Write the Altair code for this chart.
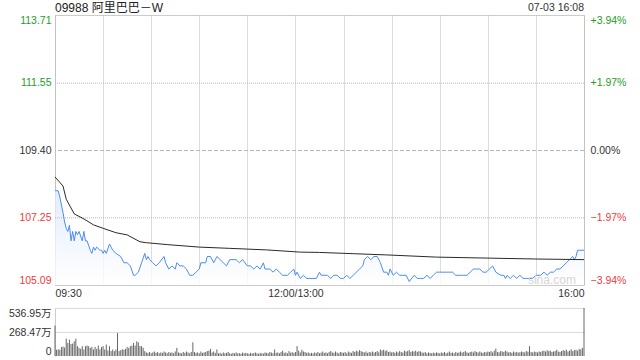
import altair as alt
import pandas as pd

TITLE = "09988 阿里巴巴－W"
STAMP = "07-03 16:08"
WATERMARK = "sina.com"
PRE_CLOSE = 109.40
Y_TICKS = [105.09, 107.25, 109.40, 111.55, 113.71]
PCT_TICKS = [-3.94, -1.97, 0.0, 1.97, 3.94]
VOL_TICKS = [0, 268.47, 536.95]
TIME_GRID = list(range(0, 331, 30))
GRID_LEVELS = [107.25, 109.40, 111.55]
GRID_KIND = ["grid", "pre", "grid"]

price_minute = [0, 2, 3, 5, 6, 7, 8, 9, 10, 11, 12, 13, 14, 15, 17, 18, 19, 20, 22, 23, 24, 25, 26, 28, 29, 30,
                31, 32, 34, 35, 36, 38, 41, 43, 45, 47, 49, 50, 52, 54, 56, 57, 58, 59, 61, 63, 65, 68, 69, 71,
                73, 75, 76, 78, 80, 82, 84, 86, 88, 90, 91, 94, 95, 97, 99, 100, 101, 103, 105, 107, 109, 111,
                113, 115, 117, 120, 122, 124, 126, 128, 130, 131, 134, 136, 138, 140, 142, 145, 147, 149, 150,
                151, 153, 155, 157, 159, 163, 165, 166, 167, 170, 172, 174, 176, 178, 180, 182, 184, 186, 188,
                190, 192, 193, 195, 197, 199, 201, 203, 205, 207, 208, 209, 211, 213, 215, 217, 219, 221, 224,
                226, 228, 230, 232, 234, 236, 238, 240, 242, 244, 246, 248, 250, 253, 255, 257, 259, 261, 263,
                265, 267, 269, 271, 273, 275, 278, 280, 281, 282, 284, 286, 288, 290, 292, 294, 296, 298, 300,
                303, 305, 307, 309, 311, 313, 315, 317, 319, 321, 323, 324, 325, 326, 327, 330]
price = [108.1, 108.1, 107.9, 107.4, 107.1, 106.9, 106.8, 107.0, 106.5, 106.8, 106.5, 106.8, 106.7, 106.8, 106.5,
         106.8, 106.5, 106.5, 106.2, 106.1, 106.3, 106.2, 106.3, 106.2, 106.2, 106.1, 106.2, 106.1, 106.4, 106.3,
         106.2, 106.1, 106.0, 105.8, 105.8, 105.7, 105.4, 105.4, 105.5, 105.8, 106.1, 105.9, 106.0, 105.9, 105.8,
         105.7, 105.8, 106.0, 105.8, 105.6, 105.7, 105.6, 105.8, 105.7, 105.7, 105.6, 105.4, 105.4, 105.5, 105.6,
         105.8, 105.8, 106.0, 106.0, 105.8, 105.9, 106.0, 105.9, 105.8, 105.7, 105.9, 105.9, 105.9, 105.8, 105.9,
         105.7, 105.7, 105.6, 105.7, 105.6, 105.8, 105.6, 105.6, 105.5, 105.6, 105.5, 105.4, 105.4, 105.5, 105.6,
         105.4, 105.5, 105.3, 105.4, 105.3, 105.3, 105.3, 105.5, 105.4, 105.4, 105.4, 105.3, 105.4, 105.4, 105.3,
         105.3, 105.4, 105.3, 105.4, 105.5, 105.6, 105.7, 105.9, 106.0, 105.9, 106.0, 106.0, 105.8, 105.5, 105.5,
         105.4, 105.6, 105.4, 105.5, 105.4, 105.4, 105.4, 105.2, 105.4, 105.3, 105.3, 105.3, 105.4, 105.3, 105.4,
         105.5, 105.5, 105.5, 105.5, 105.5, 105.5, 105.4, 105.4, 105.4, 105.4, 105.5, 105.6, 105.6, 105.6, 105.5,
         105.5, 105.6, 105.7, 105.5, 105.4, 105.4, 105.3, 105.4, 105.3, 105.4, 105.3, 105.4, 105.3, 105.3, 105.3,
         105.3, 105.4, 105.4, 105.5, 105.4, 105.5, 105.5, 105.6, 105.6, 105.7, 105.8, 105.9, 106.0, 105.9, 106.0,
         106.2, 106.2, 106.2]

avg_minute = [0, 5, 7, 12, 18, 24, 30, 38, 45, 53, 57, 70, 90, 109, 132, 153, 165, 186, 207, 238, 269, 300, 330]
avg_price = [108.54, 108.25, 107.83, 107.36, 107.20, 107.01, 106.90, 106.76, 106.69, 106.47, 106.44, 106.38,
             106.30, 106.26, 106.21, 106.14, 106.13, 106.09, 106.05, 105.98, 105.95, 105.92, 105.90]

# volume per minute, in 万 shares
volume = (
    [340, 70, 75, 70, 100, 105, 95, 194, 146, 183, 135, 139, 164, 194, 110, 91, 80, 110, 73, 110, 117, 110, 91, 102, 73, 102, 80, 117, 73, 99]
    + [110, 73, 128, 62, 110, 55, 73, 55, 73, 256, 55, 65, 75, 70, 80, 102, 91, 110, 117, 146, 117, 164, 153, 110, 110, 91, 55, 40, 35, 45]
    + [30, 40, 50, 35, 45, 30, 40, 35, 50, 40, 30, 45, 35, 40, 30, 50, 91, 40, 35, 30, 45, 35, 50, 40, 30, 45, 153, 45, 35, 40]
    + [30, 50, 35, 40, 45, 55, 60, 80, 40, 50, 35, 73, 30, 35, 25, 40, 30, 35, 45, 30, 25, 35, 30, 40, 28, 32, 25, 38, 30, 35]
    + [30, 25, 35, 28, 32, 40, 30, 25, 35, 30, 28, 40, 35, 30, 45, 38, 30, 73, 35, 40, 30, 45, 60, 35, 40, 30, 55, 38, 42, 35]
    + [45, 110, 60, 40, 70, 50, 45, 35, 40, 30, 35, 28, 40, 32, 45, 30, 38, 50, 35, 40, 30, 45, 55, 40, 35, 50, 38, 30, 45, 40]
    + [35, 45, 30, 50, 40, 35, 55, 45, 60, 50, 65, 55, 45, 40, 50, 35, 45, 40, 50, 38, 45, 55, 40, 73, 60, 70, 55, 65, 45, 50]
    + [40, 45, 35, 50, 40, 55, 45, 38, 60, 50, 55, 65, 45, 55, 50, 60, 45, 55, 50, 40, 35, 45, 30, 40, 35, 30, 38, 32, 40, 35]
    + [30, 40, 35, 45, 30, 38, 50, 35, 40, 30, 45, 35, 40, 50, 38, 45, 55, 40, 35, 45, 50, 40, 55, 45, 38, 50, 40, 35, 45, 40]
    + [50, 45, 55, 40, 60, 84, 45, 40, 55, 50, 45, 60, 50, 40, 45, 35, 50, 40, 45, 38, 42, 50, 45, 40, 55, 48, 110, 45, 40, 50]
    + [45, 40, 50, 45, 55, 60, 50, 65, 55, 60, 45, 50, 55, 70, 50, 45, 55, 65, 60, 70, 50, 60, 75, 55, 65, 70, 60, 80, 73, 91, 536.95]
)

FONT = "'Liberation Sans', Arial, 'Noto Sans CJK SC', sans-serif"
GREEN = "#1f9e1f"
RED = "#f03c3c"
GRAY = "#333333"
BLUE = "#4b8cf0"
GRID = "#b8b8b8"

df_p = pd.DataFrame({"m": price_minute, "price": price})
df_a = pd.DataFrame({"m": avg_minute, "avg": avg_price})
df_v = pd.DataFrame({"m": list(range(len(volume))), "vol": volume})
df_g = pd.DataFrame({"lvl": GRID_LEVELS, "kind": GRID_KIND})

xscale = alt.Scale(domain=[0, 330], nice=False, zero=False)
yscale = alt.Scale(domain=[Y_TICKS[0], Y_TICKS[-1]], nice=False, zero=False)

x_axis = alt.Axis(
    values=TIME_GRID,
    labelExpr="datum.value == 0 ? '09:30' : datum.value == 150 ? '12:00/13:00' : datum.value == 330 ? '16:00' : ''",
    grid=True, gridDash=[1, 1], gridColor=GRID, ticks=False, domain=False,
    labelFlush=True, labelOverlap=False, labelPadding=3, labelColor=GRAY,
    labelFontSize=10.5, labelFont=FONT, title=None,
)

price_color = {
    "condition": [
        {"test": "datum.value > 109.41", "value": GREEN},
        {"test": "datum.value < 109.39", "value": RED},
    ],
    "value": GRAY,
}
pct_color = {
    "condition": [
        {"test": "datum.value > 0.001", "value": GREEN},
        {"test": "datum.value < -0.001", "value": RED},
    ],
    "value": GRAY,
}

y_axis = alt.Axis(
    values=Y_TICKS, format=".2f", grid=False,
    ticks=False, domain=False, labelFlush=True, labelPadding=4,
    labelColor=price_color, labelFontSize=10.5, labelFont=FONT, title=None,
)

hlines = alt.Chart(df_g).mark_rule(color=GRID, strokeWidth=1, yOffset=0.5).encode(
    y=alt.Y("lvl:Q", scale=yscale),
    strokeDash=alt.StrokeDash(
        "kind:N", scale=alt.Scale(domain=["grid", "pre"], range=[[1, 1], [4, 2]]), legend=None
    ),
)

base = alt.Chart(df_p).encode(x=alt.X("m:Q", scale=xscale, axis=x_axis))

area = base.mark_area(
    color=alt.Gradient(
        gradient="linear",
        stops=[alt.GradientStop(color="#dde8fb", offset=0), alt.GradientStop(color="#ffffff", offset=1)],
        x1=0, x2=0, y1=0, y2=1,
    ),
    opacity=0.8,
).encode(y=alt.Y("price:Q", scale=yscale, axis=y_axis), y2=alt.datum(Y_TICKS[0]))

line = base.mark_line(color=BLUE, strokeWidth=1).encode(y=alt.Y("price:Q", scale=yscale))

avg = alt.Chart(df_a).mark_line(color="#2a2a2a", strokeWidth=1).encode(
    x=alt.X("m:Q", scale=xscale), y=alt.Y("avg:Q", scale=yscale)
)

mark_wm = alt.Chart(pd.DataFrame({"t": [WATERMARK]})).mark_text(
    color="#d6d6d6", fontSize=12, font=FONT, align="center", baseline="middle"
).encode(x=alt.datum(310), y=alt.datum(105.24), text="t:N")

title_txt = alt.Chart(pd.DataFrame({"t": [TITLE]})).mark_text(
    color="#222222", fontSize=12, font=FONT, align="left", baseline="middle"
).encode(x=alt.value(0), y=alt.value(-7), text="t:N")

stamp = alt.Chart(pd.DataFrame({"t": [STAMP]})).mark_text(
    color=GRAY, fontSize=10.5, font=FONT, align="right", baseline="middle"
).encode(x=alt.value(529), y=alt.value(-7), text="t:N")

price_layer = alt.layer(area, hlines, line, avg, mark_wm, title_txt, stamp)

pct_layer = alt.Chart(pd.DataFrame({"pct": PCT_TICKS})).mark_point(opacity=0).encode(
    y=alt.Y(
        "pct:Q",
        scale=alt.Scale(domain=[-3.94, 3.94], nice=False, zero=False),
        axis=alt.Axis(
            orient="right", values=PCT_TICKS,
            labelExpr="(datum.value > 0 ? '+' : '') + format(datum.value, '.2f') + '%'",
            grid=False, ticks=False, domain=False, labelFlush=True, labelPadding=6,
            labelColor=pct_color, labelFontSize=10.5, labelFont=FONT, title=None,
        ),
    )
)

top = alt.layer(price_layer, pct_layer).resolve_scale(y="independent").properties(
    width=529, height=270,
    view=alt.ViewBackground(stroke="#cccccc"),
)

vol = alt.Chart(df_v).mark_rule(color="#666666", strokeWidth=1).encode(
    x=alt.X("m:Q", scale=xscale, axis=None),
    y=alt.Y(
        "vol:Q",
        scale=alt.Scale(domain=[0, 536.95], nice=False),
        axis=alt.Axis(
            values=VOL_TICKS,
            labelExpr="datum.value == 0 ? '0' : format(datum.value, '.2f') + '万'",
            grid=True, gridDash=[1, 1], gridColor=GRID,
            gridOpacity={"condition": {"test": "datum.value == 0", "value": 0}, "value": 1},
            ticks=False, domain=True, domainColor="#cccccc", labelFlush=True, labelPadding=4,
            labelColor=GRAY, labelFontSize=10.5, labelFont=FONT, title=None,
        ),
    ),
    y2=alt.datum(0),
).properties(width=529, height=48, view=alt.ViewBackground(stroke=None))

chart = alt.vconcat(top, vol, spacing=8).properties(
    padding={"left": 8, "top": 1, "right": 10, "bottom": 0}
).configure_view(strokeWidth=1)

chart.save("out.html", embed_options={"renderer": "svg", "actions": False})
